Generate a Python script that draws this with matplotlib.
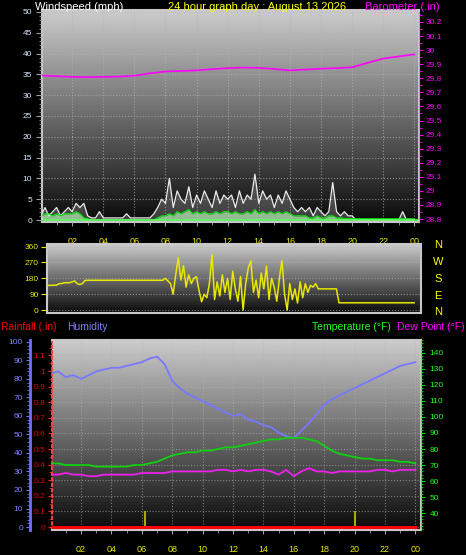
import numpy as np
import matplotlib.pyplot as plt
from matplotlib.ticker import MultipleLocator

plt.rcParams['font.family'] = ['Liberation Sans', 'DejaVu Sans']

hour_ticks = [2, 4, 6, 8, 10, 12, 14, 16, 18, 20, 22, 24]
hour_labels = ['02', '04', '06', '08', '10', '12', '14', '16', '18', '20', '22', '00']

# wind speed, 15 minute readings (mph)
gust = [1, 3, 1, 2,  3, 1, 2, 3,  2, 4, 3, 4,  1, 0.5, 0.5, 2,
        0.5, 0.5, 0.5, 0.5,  0.5, 0.5, 1.5, 0.5,  0.5, 0.5, 0.5, 0.5,  0.5, 1.5, 3, 5,
        4, 10, 3, 7,  5, 4, 8, 3,  6, 4, 7, 5,  3, 7, 4, 6,
        5, 6, 3, 7,  4, 6, 5, 11,  4, 7, 5, 6,  3, 6, 4, 7,
        5, 3, 2, 3,  2, 3, 1, 3,  2, 1, 2, 9,  2, 1, 2, 1,
        1, 0, 0, 0,  0, 0, 0, 0,  0, 0, 0, 0,  0, 2, 0, 0,  0]
speed_avg = [1, 1.5, 1.5, 1,  1.5, 1, 1.5, 1.5,  1.5, 2, 1.5, 0.5,  0.3, 0, 0, 0,
             0, 0, 0, 0,  0, 0, 0, 0,  0, 0, 0, 0,  0, 0, 0.5, 1,
             1, 1.5, 1, 2,  1.5, 2, 2.5, 1.5,  2, 1.5, 2, 1.5,  1.5, 2, 1.5, 2,
             2, 1.5, 2, 1.5,  1.5, 2, 1.5, 2.5,  1.5, 2, 1.5, 2,  1.5, 2, 1.5, 2,
             1.5, 1, 1, 1,  1, 0.5, 0.5, 1,  0.5, 0.5, 1, 1,  0.5, 0.5, 0.3, 0.3,
             0.3, 0.3, 0.3, 0.3,  0.3, 0.3, 0.3, 0.3,  0.3, 0.3, 0.3, 0.3,  0.3, 0.3, 0.3, 0.3,  0.3]
speed_hours = np.linspace(0, 24, len(gust))

# barometer, hourly (in)
baro = [29.82, 29.815, 29.81, 29.808, 29.81, 29.812, 29.818, 29.835, 29.848, 29.852,
        29.856, 29.865, 29.872, 29.876, 29.874, 29.866, 29.856, 29.862, 29.868, 29.872,
        29.878, 29.91, 29.94, 29.955, 29.97]
baro_hours = np.linspace(0, 24, len(baro))

# wind direction, 10 minute readings (deg)
wind_dir = [138, 138, 138, 140, 140, 141,
            141, 150, 150, 155, 155, 155,
            160, 165, 150, 145, 150, 168,
            169, 169, 169, 169, 169, 169,
            169, 169, 169, 169, 169, 169,
            169, 169, 169, 169, 169, 169,
            169, 169, 169, 169, 169, 169,
            169, 169, 169, 169, 169, 169,
            180, 165, 150, 90, 200, 297,
            170, 252, 130, 200, 150, 180,
            190, 110, 47, 90, 70, 150,
            317, 60, 160, 80, 200, 100,
            180, 60, 220, 120, 50, 190,
            0, 150, 240, 279, 100, 170,
            70, 210, 120, 250, 60, 180,
            130, 50, 180, 280, 90, 0,
            150, 60, 120, 40, 160, 70,
            150, 100, 140, 130, 150, 120,
            120, 120, 120, 120, 120, 120,
            120, 41, 41, 41, 41, 41,
            41, 41, 41, 41, 41, 41,
            41, 41, 41, 41, 41, 41,
            41, 41, 41, 41, 41, 41,
            41, 41, 41, 41, 41, 41, 41]
dir_hours = np.linspace(0, 24, len(wind_dir))

# half-hourly readings
humidity = [83, 84, 81, 82, 80, 82, 84, 85, 86, 86, 87, 88, 89, 91, 92, 88, 79, 75, 72, 70,
            68, 66, 64, 62, 60, 61, 58, 57, 55, 54, 51, 49, 48, 52, 56, 61, 66, 69, 71, 73,
            75, 77, 79, 81, 83, 85, 87, 88, 89]
temperature = [71, 71, 70, 70, 70, 70, 69, 69, 69, 69, 69, 70, 70, 71, 72, 74, 76, 77, 78, 78,
               79, 79, 80, 81, 81, 82, 83, 84, 85, 86, 86, 87, 87, 87, 86, 85, 82, 79, 77, 76,
               75, 74, 74, 73, 73, 73, 72, 72, 71]
dew_point = [64, 64, 65, 64, 64, 63, 63, 64, 64, 64, 64, 64, 65, 65, 65, 65, 66, 66, 66, 66,
             66, 66, 67, 67, 66, 67, 66, 67, 67, 66, 64, 67, 63, 66, 68, 66, 66, 65, 66, 66,
             66, 66, 66, 67, 67, 66, 67, 67, 67]
rainfall = [0] * 49
half_hours = np.linspace(0, 24, len(humidity))
rain_marks = [6.2, 20.0]
rain_mark_height = [0.1, 0.1]

fig = plt.figure(figsize=(4.66, 5.55), dpi=100, facecolor='black')
grad = np.linspace(0.8, 0.04, 256).reshape(-1, 1)


def backdrop(ax):
    ax.set_facecolor('black')
    ax.imshow(grad, cmap='gray', vmin=0, vmax=1, extent=[0, 1, 0, 1], aspect='auto',
              transform=ax.transAxes, zorder=0)
    for s in ax.spines.values():
        s.set_color('#c8c8c8')
        s.set_linewidth(1.5)


# ---- top panel: wind speed + barometer
ax1 = fig.add_axes([42 / 466, 1 - 222 / 555, 377 / 466, 212 / 555])
backdrop(ax1)
ax1.fill_between(speed_hours, gust, color='#a0a0a0', alpha=0.35, zorder=2, lw=0)
ax1.plot(speed_hours, gust, color='#ececec', lw=0.9, zorder=3)
ax1.fill_between(speed_hours, speed_avg, color='#b8f0b8', alpha=0.7, zorder=4, lw=0)
ax1.plot(speed_hours, speed_avg, color='#10e010', lw=0.9, zorder=5)
ax1.axhline(0, color='#60ff60', lw=1.2, zorder=5)
ax1.set_xlim(0.06, 24.3)
ax1.set_ylim(-0.48, 50.48)
ax1.set_xticks(hour_ticks)
ax1.set_xticklabels(hour_labels)
ax1.xaxis.set_minor_locator(MultipleLocator(1))
ax1.yaxis.set_major_locator(MultipleLocator(5))
ax1.yaxis.set_minor_locator(MultipleLocator(1))
ax1.tick_params(axis='x', colors='#a0a0a0', labelcolor='#e8e800', labelsize=6.5, length=3, pad=8)
ax1.tick_params(axis='x', which='minor', colors='#a0a0a0', length=2)
ax1.tick_params(axis='y', colors='#a0a0a0', labelcolor='#d8e8ff', labelsize=6, length=4, pad=3)
ax1.tick_params(axis='y', which='minor', colors='#a0a0a0', length=2)
ax1.grid(True, color='#b4b4b4', linestyle=':', linewidth=0.8, alpha=0.7)
ax1.set_axisbelow(False)

ax1b = ax1.twinx()
ax1b.plot(baro_hours, baro, color='#ff00ff', lw=1.2)
ax1b.set_ylim(28.779, 30.285)
ax1b.set_yticks([28.8 + 0.1 * k for k in range(15)])
ax1b.set_yticklabels(['28.8', '28.9', '29', '29.1', '29.2', '29.3', '29.4', '29.5',
                      '29.6', '29.7', '29.8', '29.9', '30', '30.1', '30.2'])
ax1b.yaxis.set_minor_locator(MultipleLocator(0.05))
ax1b.tick_params(axis='y', colors='#ff00ff', labelsize=6, length=3, pad=2)
ax1b.tick_params(axis='y', which='minor', colors='#ff00ff', length=2)
for s in ax1b.spines.values():
    s.set_visible(False)
ax1b.spines['right'].set_visible(True)
ax1b.spines['right'].set_color('#ff60ff')
ax1b.spines['right'].set_linestyle(':')

fig.text(35 / 466, 1 - 7 / 555, 'Windspeed (mph)', color='white', fontsize=8, va='center')
fig.text(257 / 466, 1 - 7 / 555, '24 hour graph day : August 13 2026', color='#ffff00',
         fontsize=8, va='center', ha='center')
fig.text(440 / 466, 1 - 7 / 555, 'Barometer (.in)', color='#ff00ff', fontsize=8,
         va='center', ha='right')

# ---- middle panel: wind direction
ax2 = fig.add_axes([47 / 466, 1 - 313 / 555, 374 / 466, 69 / 555])
backdrop(ax2)
ax2.plot(dir_hours, wind_dir, color='#e8e800', lw=1.1, zorder=3)
ax2.set_xlim(0.39, 24.44)
ax2.set_ylim(-17, 375)
ax2.set_xticks(hour_ticks)
ax2.set_xticklabels([])
ax2.tick_params(axis='x', length=0)
ax2.set_yticks([0, 90, 180, 270, 360])
ax2.tick_params(axis='y', colors='#e8e800', labelsize=6, length=4, pad=2)
ax2.grid(True, axis='y', color='#b4b4b4', linestyle=':', linewidth=0.8, alpha=0.7)
for lbl, yy in zip(['N', 'W', 'S', 'E', 'N'], [245, 262, 279, 296, 312]):
    fig.text(438 / 466, 1 - yy / 555, lbl, color='#ffff00', fontsize=8, ha='center', va='center')

# ---- bottom panel: rain, humidity, temperature, dew point
ax3 = fig.add_axes([52 / 466, 1 - 530 / 555, 369 / 466, 190 / 555])
backdrop(ax3)
ax3.vlines(rain_marks, 0, rain_mark_height, color='#a8a800', lw=1.5, zorder=3)
ax3.plot(half_hours, rainfall, color='#ff0000', lw=2.2, zorder=6)
ax3.set_xlim(0.09, 24.37)
ax3.set_ylim(-0.019, 1.199)
ax3.set_xticks(hour_ticks)
ax3.set_xticklabels(hour_labels)
ax3.xaxis.set_minor_locator(MultipleLocator(1))
ax3.set_yticks([0.1 * k for k in range(12)])
ax3.set_yticklabels(['0', '0.1', '0.2', '0.3', '0.4', '0.5', '0.6', '0.7', '0.8', '0.9', '1', '1.1'])
ax3.yaxis.set_minor_locator(MultipleLocator(0.05))
ax3.tick_params(axis='x', colors='#a0a0a0', labelcolor='#e8e800', labelsize=6.5, length=3, pad=8)
ax3.tick_params(axis='x', which='minor', colors='#a0a0a0', length=2)
ax3.tick_params(axis='y', colors='#ff2020', labelcolor='#e00000', labelsize=6, length=3, pad=2)
ax3.tick_params(axis='y', which='minor', colors='#ff2020', length=2)
ax3.grid(True, color='#b4b4b4', linestyle=':', linewidth=0.8, alpha=0.6)
ax3.spines['left'].set_color('#ff4040')
ax3.spines['left'].set_linestyle(':')

ax3h = ax3.twinx()
ax3h.yaxis.set_label_position('left')
ax3h.yaxis.tick_left()
ax3h.plot(half_hours, humidity, color='#7878ff', lw=1.3)
ax3h.set_ylim(-1.6, 101)
ax3h.set_yticks(range(0, 101, 10))
ax3h.yaxis.set_minor_locator(MultipleLocator(2))
ax3h.tick_params(axis='y', colors='#7070ff', labelcolor='#8080ff', labelsize=6, length=3, pad=2)
ax3h.tick_params(axis='y', which='minor', colors='#7070ff', length=2)
for s in ax3h.spines.values():
    s.set_visible(False)
ax3h.spines['left'].set_visible(True)
ax3h.spines['left'].set_position(('axes', -22 / 369))
ax3h.spines['left'].set_color('#7070ff')
ax3h.spines['left'].set_linewidth(2)

ax3t = ax3.twinx()
ax3t.plot(half_hours, temperature, color='#10d010', lw=1.3)
ax3t.plot(half_hours, dew_point, color='#ee20ee', lw=1.3)
ax3t.set_ylim(29.4, 148.1)
ax3t.set_yticks(range(40, 141, 10))
ax3t.yaxis.set_minor_locator(MultipleLocator(2))
ax3t.tick_params(axis='y', colors='#00e000', labelcolor='#20ff20', labelsize=6, length=3, pad=3)
ax3t.tick_params(axis='y', which='minor', colors='#00e000', length=1.5)
for s in ax3t.spines.values():
    s.set_visible(False)
ax3t.spines['right'].set_visible(True)
ax3t.spines['right'].set_color('#20ff20')
ax3t.spines['right'].set_linestyle(':')

fig.text(1 / 466, 1 - 327 / 555, 'Rainfall (.in)', color='#ff0000', fontsize=7.5, va='center')
fig.text(67 / 466, 1 - 327 / 555, 'Humidity', color='#8080ff', fontsize=7.5, va='center')
fig.text(312 / 466, 1 - 327 / 555, 'Temperature (°F)', color='#20ff20', fontsize=7.5, va='center')
fig.text(465 / 466, 1 - 327 / 555, 'Dew Point (°F)', color='#ff00ff', fontsize=7.5,
         va='center', ha='right')

fig.savefig('out.png', dpi=100, facecolor='black')
